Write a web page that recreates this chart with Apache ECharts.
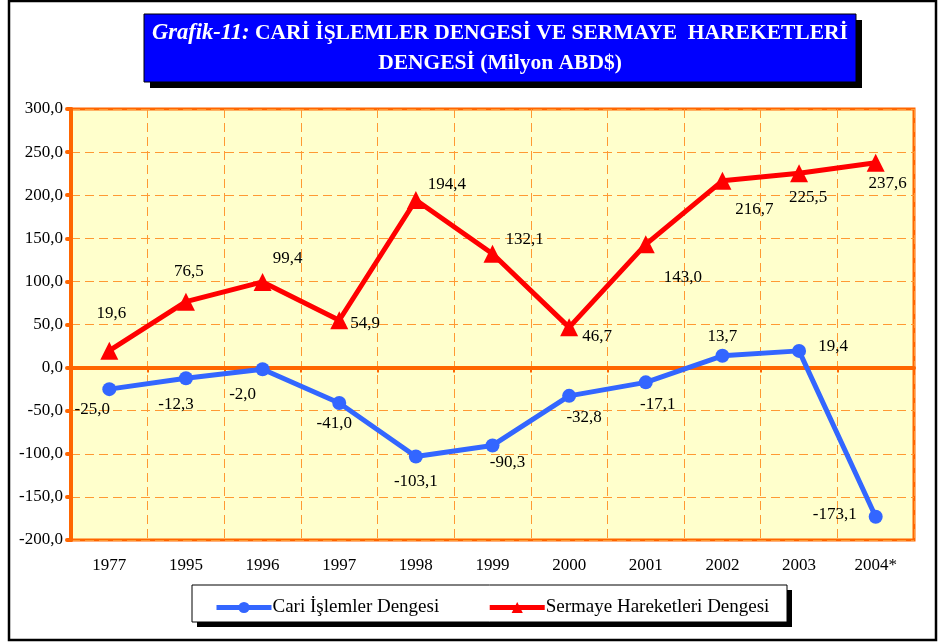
<!DOCTYPE html>
<html>
<head>
<meta charset="utf-8">
<script src="https://cdn.jsdelivr.net/npm/echarts@6/dist/echarts.min.js"></script>
<style>
  html, body { margin: 0; padding: 0; background: #fff; }
  #chart { width: 938px; height: 643px; }
</style>
</head>
<body>
<div id="chart"></div>
<script>
// Data
const years = ['1977', '1995', '1996', '1997', '1998', '1999', '2000', '2001', '2002', '2003', '2004*'];
const cariDengesi = [-25.0, -12.3, -2.0, -41.0, -103.1, -90.3, -32.8, -17.1, 13.7, 19.4, -173.1];
const sermayeDengesi = [19.6, 76.5, 99.4, 54.9, 194.4, 132.1, 46.7, 143.0, 216.7, 225.5, 237.6];
const seriesNames = ['Cari İşlemler Dengesi', 'Sermaye Hareketleri Dengesi'];

// label offsets (pixels from the point) so labels sit where they do in the original
const cariOffsets = [[-17, 20], [-10, 26], [-20, 25], [-5, 21], [0, 25], [15, 17], [15, 22], [12, 22], [0, -19], [34, -4], [-41, -2]];
const sermayeOffsets = [[2, -37], [3, -30], [25, -23], [26, 3], [31, -15], [32, -14], [28, 9], [37, 33], [32, 29], [9, 24], [12, 21]];

const serif = '"Liberation Serif", "DejaVu Serif", serif';
const orange = '#FF6600';
const gridOrange = '#FF9933';

function fmt(v) {
    return v.toFixed(1).replace('.', ',');
}

function withLabels(values, offsets) {
    return values.map((v, i) => ({
        value: v,
        label: { offset: offsets[i] }
    }));
}

const chart = echarts.init(document.getElementById('chart'), null, { renderer: 'canvas' });

chart.setOption({
    backgroundColor: '#ffffff',
    animation: false,
    grid: {
        left: 71, right: 24, top: 109, bottom: 103,
        show: true,
        backgroundColor: '#FFFFCC',
        borderColor: orange,
        borderWidth: 3
    },
    legend: {
        left: 209, top: 593,
        itemWidth: 55, itemHeight: 14, itemGap: 48,
        lineStyle: { width: 5 },
        textStyle: { fontFamily: serif, fontSize: 19, color: '#000', padding: [0, 0, 0, -4] },
        data: seriesNames
    },
    xAxis: [{
        type: 'category',
        data: years,
        boundaryGap: true,
        axisLine: { show: false, onZero: false },
        axisTick: { show: false },
        axisLabel: { fontFamily: serif, fontSize: 17, color: '#000', margin: 17, interval: 0 },
        splitLine: {
            show: true, interval: 0,
            lineStyle: { color: gridOrange, type: [9, 5], width: 1 }
        }
    }, {
        // zero line with small ticks
        type: 'category',
        data: years,
        position: 'bottom',
        boundaryGap: true,
        axisLine: { show: true, onZero: true, lineStyle: { color: orange, width: 4 } },
        axisTick: { show: true, length: 5, interval: 0, lineStyle: { color: orange, width: 2 } },
        axisLabel: { show: false },
        splitLine: { show: false }
    }],
    yAxis: {
        type: 'value',
        min: -200, max: 300, interval: 50,
        axisLine: { show: true, lineStyle: { color: orange, width: 4 } },
        axisTick: { show: true, length: 4, lineStyle: { color: orange, width: 4, cap: 'round' } },
        axisLabel: {
            fontFamily: serif, fontSize: 17, color: '#000', margin: 8,
            formatter: fmt
        },
        splitLine: { show: true, lineStyle: { color: gridOrange, type: [9, 5], width: 1 } }
    },
    series: [{
        name: seriesNames[0],
        type: 'line',
        data: withLabels(cariDengesi, cariOffsets),
        color: '#3366FF',
        symbol: 'circle',
        symbolSize: 14,
        lineStyle: { width: 5, color: '#3366FF' },
        itemStyle: { color: '#3366FF' },
        label: {
            show: true, position: 'inside',
            fontFamily: serif, fontSize: 17, color: '#000',
            formatter: p => fmt(p.value)
        },
        z: 3
    }, {
        name: seriesNames[1],
        type: 'line',
        data: withLabels(sermayeDengesi, sermayeOffsets),
        color: '#FF0000',
        symbol: 'triangle',
        symbolSize: 18,
        lineStyle: { width: 5, color: '#FF0000' },
        itemStyle: { color: '#FF0000' },
        label: {
            show: true, position: 'inside',
            fontFamily: serif, fontSize: 17, color: '#000',
            formatter: p => fmt(p.value)
        },
        z: 3
    }],
    graphic: [
        // outer frame
        { type: 'rect', z: 0, shape: { x: 9, y: 1, width: 927, height: 639 },
          style: { fill: 'none', stroke: '#000', lineWidth: 2.5 } },
        // title box with shadow
        { type: 'rect', z: 10, shape: { x: 150, y: 20, width: 712, height: 68 }, style: { fill: '#000' } },
        { type: 'rect', z: 11, shape: { x: 144, y: 14, width: 712, height: 68 },
          style: { fill: '#0000FF', stroke: '#000', lineWidth: 1 } },
        { type: 'text', z: 12, x: 500, y: 22,
          style: {
              text: '{i|Grafik-11:} CARİ İŞLEMLER DENGESİ VE SERMAYE  HAREKETLERİ',
              align: 'center', textAlign: 'center',
              fill: '#fff', font: 'bold 21.5px ' + serif,
              rich: { i: { fontStyle: 'italic', fontWeight: 'bold', fontSize: 22.5, fontFamily: serif, fill: '#fff' } }
          } },
        { type: 'text', z: 12, x: 500, y: 52,
          style: { text: 'DENGESİ (Milyon ABD$)', align: 'center', textAlign: 'center',
                   fill: '#fff', font: 'bold 21.5px ' + serif } },
        // legend box with shadow
        { type: 'rect', z: 0, shape: { x: 197, y: 590, width: 595, height: 37 }, style: { fill: '#000' } },
        { type: 'rect', z: 1, shape: { x: 192, y: 585, width: 595, height: 37 },
          style: { fill: '#fff', stroke: '#000', lineWidth: 1 } }
    ]
});
</script>
</body>
</html>
